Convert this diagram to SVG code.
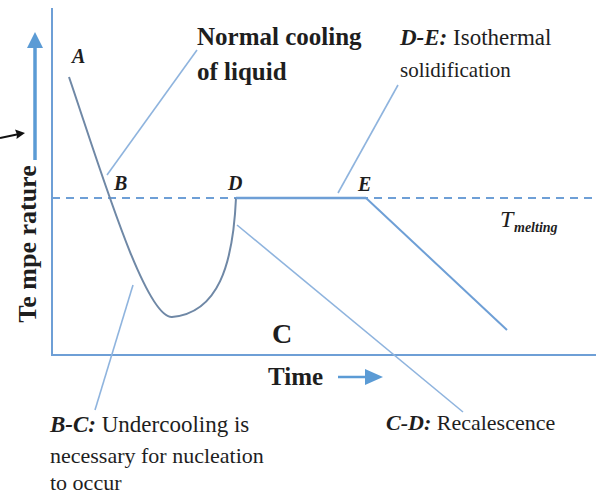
<svg xmlns="http://www.w3.org/2000/svg" width="604" height="501" viewBox="0 0 604 501">
<rect width="604" height="501" fill="#fff"/>
<g id="axes" fill="none">
<line x1="52" y1="8" x2="52" y2="355" stroke="#6e9fd6" stroke-width="2"/>
<line x1="51" y1="355" x2="596" y2="355" stroke="#6e9fd6" stroke-width="2"/>
<line x1="52" y1="198" x2="598" y2="198" stroke="#6e9fd6" stroke-width="2" stroke-dasharray="8,6"/>
</g>
<g id="temp-arrow">
<line x1="35" y1="46" x2="35" y2="160" stroke="#5b9bd5" stroke-width="3.5"/>
<path d="M27,48 L35,32 L43,48 Z" fill="#5b9bd5"/>
</g>
<g id="pointer">
<line x1="0" y1="138" x2="18" y2="134.3" stroke="#111" stroke-width="2"/>
<path d="M25,133 L15,129.5 L17,134.5 L16.5,139 Z" fill="#111"/>
</g>
<g id="curve" fill="none">
<path d="M69,77 C100,168 145,318 172,317 C218,313 233,265 236,198" stroke="#6f88a6" stroke-width="2"/>
<line x1="236" y1="198" x2="366" y2="198" stroke="#6e9fd6" stroke-width="2.5"/>
<line x1="366" y1="198" x2="507" y2="330" stroke="#6e9fd6" stroke-width="2"/>
</g>
<g id="connectors" stroke="#8fb4de" stroke-width="1.6" fill="none">
<line x1="107" y1="175" x2="197" y2="50"/>
<line x1="338" y1="193" x2="398" y2="85"/>
<line x1="133" y1="285" x2="95" y2="410"/>
<line x1="237" y1="225" x2="463" y2="412"/>
</g>
<g id="time-arrow">
<line x1="338" y1="377" x2="368" y2="377" stroke="#5b9bd5" stroke-width="2.5"/>
<path d="M365,369 L383,377 L365,385 Z" fill="#5b9bd5"/>
</g>
<g id="ylabel">
<text font-family="Liberation Serif" font-weight="bold" fill="#1e1e1e" font-size="26" text-anchor="middle" transform="translate(36,244) rotate(-90)">Te mpe rature</text>
</g>
<g id="point-labels">
<text font-family="Liberation Serif" font-weight="bold" font-style="italic" fill="#1e1e1e" font-size="20" x="72" y="63">A</text>
<text font-family="Liberation Serif" font-weight="bold" font-style="italic" fill="#1e1e1e" font-size="20" x="114" y="190">B</text>
<text font-family="Liberation Serif" font-weight="bold" font-style="italic" fill="#1e1e1e" font-size="20" x="228" y="190">D</text>
<text font-family="Liberation Serif" font-weight="bold" font-style="italic" fill="#1e1e1e" font-size="20" x="358" y="191">E</text>
</g>
<g id="label-c">
<text font-family="Liberation Serif" font-weight="bold" fill="#1e1e1e" font-size="28" x="272" y="343">C</text>
</g>
<g id="label-normal">
<text font-family="Liberation Serif" font-weight="bold" fill="#1e1e1e" font-size="25" x="197" y="45">Normal cooling</text>
<text font-family="Liberation Serif" font-weight="bold" fill="#1e1e1e" font-size="25" x="197" y="80">of liquid</text>
</g>
<g id="label-de">
<text font-family="Liberation Serif" fill="#1e1e1e" font-size="23" x="400" y="45"><tspan font-weight="bold" font-style="italic">D-E:</tspan> Isothermal</text>
<text font-family="Liberation Serif" fill="#1e1e1e" font-size="21" x="400" y="77">solidification</text>
</g>
<g id="label-tm">
<text font-family="Liberation Serif" font-style="italic" fill="#1e1e1e" font-size="24" x="500" y="227">T</text>
<text font-family="Liberation Serif" font-weight="bold" font-style="italic" fill="#1e1e1e" font-size="14" x="514" y="232">melting</text>
</g>
<g id="label-time">
<text font-family="Liberation Serif" font-weight="bold" fill="#1e1e1e" font-size="25" x="268" y="385">Time</text>
</g>
<g id="label-bc">
<text font-family="Liberation Serif" fill="#1e1e1e" font-size="23" x="50" y="432"><tspan font-weight="bold" font-style="italic">B-C:</tspan> Undercooling is</text>
<text font-family="Liberation Serif" fill="#1e1e1e" font-size="22" x="50" y="463">necessary for nucleation</text>
<text font-family="Liberation Serif" fill="#1e1e1e" font-size="22" x="50" y="490">to occur</text>
</g>
<g id="label-cd">
<text font-family="Liberation Serif" fill="#1e1e1e" font-size="22" x="386" y="430"><tspan font-weight="bold" font-style="italic">C-D:</tspan> Recalescence</text>
</g>
</svg>
